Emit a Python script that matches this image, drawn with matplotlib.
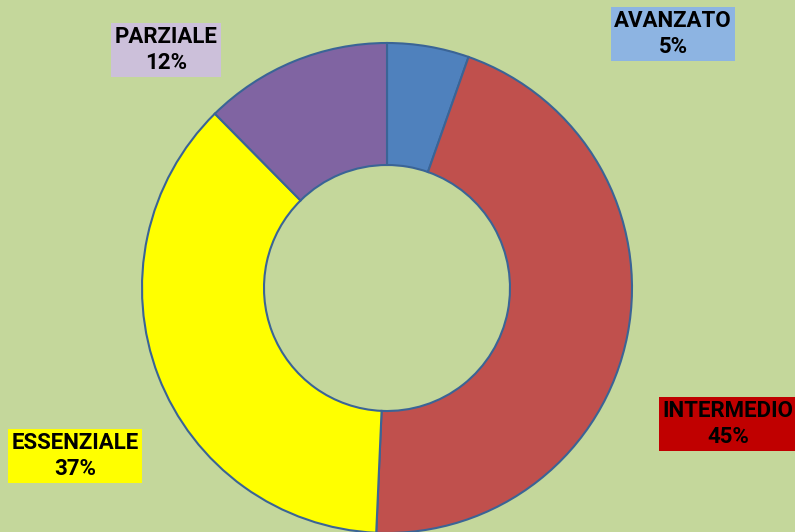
import matplotlib.pyplot as plt

labels = ['AVANZATO', 'INTERMEDIO', 'ESSENZIALE', 'PARZIALE']
values = [5.4, 45.3, 36.9, 12.4]
pct_text = ['5%', '45%', '37%', '12%']
colors = ['#4F81BD', '#C0504D', '#FFFF00', '#8064A2']
box_colors = ['#8DB4E2', '#C00000', '#FFFF00', '#CCC0DA']
label_pos = [(673, 498), (728, 108), (75, 76), (166, 482)]

bg = '#C4D79B'
fig = plt.figure(figsize=(7.95, 5.32), dpi=100)
fig.patch.set_facecolor(bg)
ax = fig.add_axes([0, 0, 1, 1])
ax.set_facecolor(bg)

ax.pie(values, colors=colors, startangle=90, counterclock=False,
       center=(387, 244), radius=245,
       wedgeprops=dict(width=122, edgecolor='#3A6496', linewidth=1.5))

for lab, pct, bc, (x, y) in zip(labels, pct_text, box_colors, label_pos):
    ax.text(x, y, f'{lab}\n{pct}', ha='center', va='center',
            fontsize=16, fontweight='bold', family='Roboto',
            linespacing=1.2, color='black',
            bbox=dict(boxstyle='square,pad=0.15', facecolor=bc, edgecolor='none'))

ax.set_xlim(0, 795)
ax.set_ylim(0, 532)
ax.set_aspect('equal')
ax.axis('off')

fig.savefig('out.png', dpi=100, facecolor=bg)
